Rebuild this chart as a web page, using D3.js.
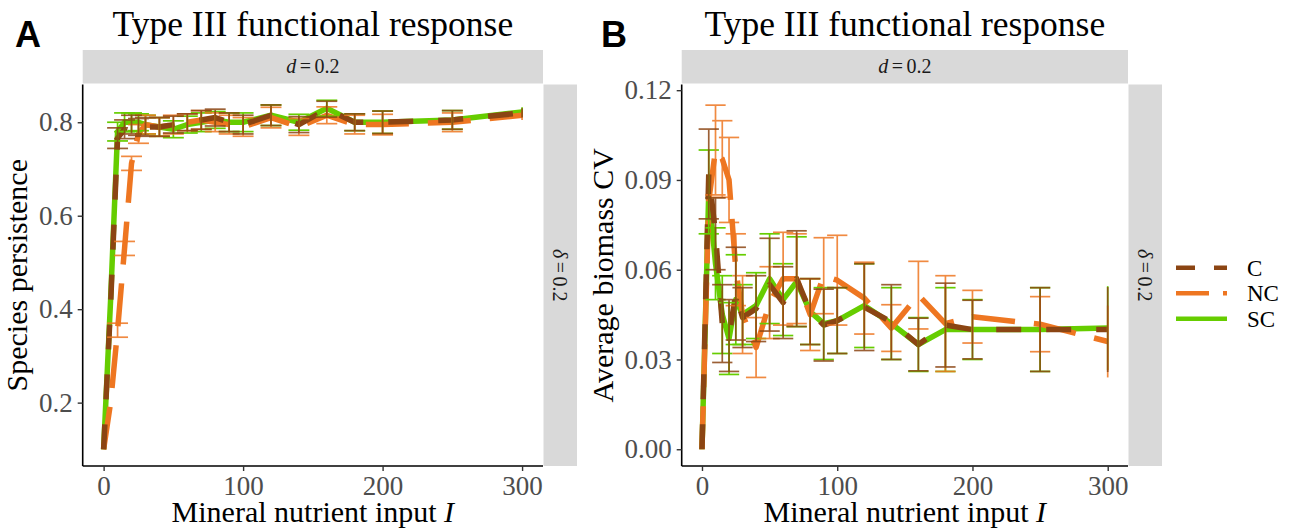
<!DOCTYPE html>
<html>
<head>
<meta charset="utf-8">
<script src="https://cdn.jsdelivr.net/npm/d3@7"></script>
<style>
  body { margin: 0; background: #fff; }
  svg { display: block; }
  text { font-family: "Liberation Serif", "Times New Roman", serif; }
</style>
</head>
<body>
<svg id="chart" width="1290" height="530"></svg>
<script>
// mineral nutrient input levels (x)
var inputs = [0, 5, 10, 15, 20, 25, 30, 40, 50, 60, 70, 80, 90, 100, 120, 140, 160, 180, 200, 250, 300];
var groups = ["C", "NC", "SC"];

// panel A : species persistence (mean, half error bar)
var persistC   = [0.10, 0.41, 0.766, 0.785, 0.795, 0.79, 0.79, 0.79, 0.795, 0.80, 0.805, 0.81, 0.80, 0.795, 0.815, 0.795, 0.828, 0.80, 0.80, 0.805, 0.82];
var persistCe  = [0, 0, 0.022, 0.02, 0.02, 0.018, 0.02, 0.02, 0.018, 0.018, 0.02, 0.018, 0.02, 0.02, 0.022, 0.017, 0.017, 0.018, 0.024, 0.02, 0.01];
var persistNC  = [0.10, 0.20, 0.355, 0.53, 0.712, 0.775, 0.795, 0.79, 0.795, 0.80, 0.805, 0.80, 0.795, 0.79, 0.81, 0.79, 0.815, 0.795, 0.795, 0.80, 0.815];
var persistNCe = [0, 0, 0.015, 0.015, 0.015, 0.02, 0.02, 0.02, 0.02, 0.018, 0.02, 0.02, 0.02, 0.02, 0.022, 0.018, 0.018, 0.02, 0.022, 0.02, 0.01];
var persistSC  = [0.10, 0.42, 0.78, 0.80, 0.80, 0.80, 0.795, 0.79, 0.785, 0.795, 0.80, 0.805, 0.80, 0.80, 0.815, 0.80, 0.83, 0.80, 0.80, 0.805, 0.822];
var persistSCe = [0, 0, 0.02, 0.02, 0.02, 0.018, 0.02, 0.02, 0.018, 0.018, 0.02, 0.018, 0.02, 0.02, 0.022, 0.017, 0.017, 0.018, 0.024, 0.02, 0.01];

// panel B : average biomass CV (mean, half error bar)
var cvC   = [0, 0.092, 0.072, 0.042, 0.038, 0.052, 0.044, 0.047, 0.055, 0.049, 0.057, 0.046, 0.0415, 0.043, 0.0475, 0.0425, 0.035, 0.0415, 0.040, 0.040, 0.040];
var cvCe  = [0, 0.015, 0.012, 0.013, 0.012, 0.0155, 0.010, 0.011, 0.0155, 0.012, 0.016, 0.011, 0.012, 0.011, 0.0145, 0.0125, 0.0088, 0.014, 0.0098, 0.014, 0.0142];
var cvNC  = [0, 0.083, 0.100, 0.097, 0.090, 0.060, 0.045, 0.034, 0.049, 0.057, 0.057, 0.045, 0.058, 0.0565, 0.0505, 0.0405, 0.0515, 0.042, 0.0443, 0.0418, 0.036];
var cvNCe = [0, 0, 0.015, 0.0128, 0.0142, 0.012, 0.013, 0.010, 0.012, 0.0155, 0.015, 0.012, 0.0127, 0.015, 0.012, 0.0078, 0.0113, 0.016, 0.0088, 0.0092, 0.012];
var cvSC  = [0, 0.086, 0.062, 0.045, 0.037, 0.050, 0.045, 0.048, 0.057, 0.050, 0.056, 0.046, 0.042, 0.043, 0.048, 0.042, 0.035, 0.040, 0.040, 0.040, 0.0405];
var cvSCe = [0, 0.014, 0.012, 0.013, 0.012, 0.015, 0.010, 0.011, 0.015, 0.012, 0.015, 0.011, 0.012, 0.011, 0.014, 0.012, 0.009, 0.014, 0.010, 0.014, 0.014];

var persistTicks = [0.2, 0.4, 0.6, 0.8];
var cvTicks = [0, 0.03, 0.06, 0.09, 0.12];
var inputTicks = [0, 100, 200, 300];

var colors = { C: "#8B4513", NC: "#EE7621", SC: "#66CD00" };
var dashes = { C: "25,25", NC: "43,19", SC: null };
var keyDashes = { C: "19,19", NC: "33,14", SC: null };

var svg = d3.select("#chart");
var plotTop = 84.5, plotBottom = 466;

function drawPanel(p) {
  var g = svg.append("g");
  var x = d3.scaleLinear().domain([-15, 315]).range([p.left, p.right]);
  var y = d3.scaleLinear().domain(p.yDomain).range([plotBottom, plotTop]);

  // panel letter + title
  g.append("text").attr("x", p.letterX).attr("y", 47)
    .style("font-family", "'Liberation Sans', Arial, sans-serif")
    .attr("font-weight", "bold").attr("font-size", 36).text(p.letter);
  g.append("text").attr("x", (p.left + p.right) / 2).attr("y", 35.5)
    .attr("text-anchor", "middle").attr("font-size", 35.5).text("Type III functional response");

  // facet strips
  g.append("rect").attr("x", p.left).attr("y", 50).attr("width", p.right - p.left).attr("height", 33.5)
    .attr("fill", "#D9D9D9");
  var st = g.append("text").attr("x", (p.left + p.right) / 2).attr("y", 73)
    .attr("text-anchor", "middle").attr("font-size", 20).attr("fill", "#1A1A1A");
  st.append("tspan").attr("font-style", "italic").text("d");
  st.append("tspan").attr("dx", 3.5).text("=");
  st.append("tspan").attr("dx", 3.5).text("0.2");

  g.append("rect").attr("x", p.right + 0.5).attr("y", plotTop).attr("width", 33.5).attr("height", plotBottom - plotTop)
    .attr("fill", "#D9D9D9");
  var rt = g.append("text")
    .attr("transform", "translate(" + (p.right + 17.2) + "," + ((plotTop + plotBottom) / 2) + ") rotate(90)")
    .attr("text-anchor", "middle").attr("dy", "0.35em").attr("font-size", 20).attr("fill", "#1A1A1A");
  rt.append("tspan").attr("font-style", "italic").text("δ");
  rt.append("tspan").attr("dx", 3.5).text("=");
  rt.append("tspan").attr("dx", 3.5).text("0.2");

  // lines
  var line = d3.line().x(function (d) { return x(d[0]); }).y(function (d) { return y(d[1]); });
  ["SC", "NC", "C"].forEach(function (k) {
    var pts = inputs.map(function (v, i) { return [v, p.mean[k][i]]; });
    g.append("path").datum(pts).attr("d", line)
      .attr("fill", "none").attr("stroke", colors[k]).attr("stroke-width", 5.5)
      .attr("stroke-linejoin", "round").attr("stroke-linecap", "butt")
      .attr("stroke-dasharray", dashes[k]);
  });

  // error bars
  ["SC", "NC", "C"].forEach(function (k) {
    var eg = g.append("g").attr("stroke", colors[k]).attr("stroke-width", 1.7)
      .attr("opacity", k === "SC" ? 1 : 0.85);
    inputs.forEach(function (v, i) {
      var m = p.mean[k][i], e = p.err[k][i];
      if (!e) return;
      var y0 = y(m - e), y1 = y(m + e), xc = x(v);
      eg.append("line").attr("x1", xc).attr("x2", xc).attr("y1", y0).attr("y2", y1);
      if (i < inputs.length - 1) {
        eg.append("line").attr("x1", x(v - 7.5)).attr("x2", x(v + 7.5)).attr("y1", y0).attr("y2", y0);
        eg.append("line").attr("x1", x(v - 7.5)).attr("x2", x(v + 7.5)).attr("y1", y1).attr("y2", y1);
      }
    });
  });

  // axes
  var ax = g.append("g").attr("transform", "translate(0," + plotBottom + ")")
    .call(d3.axisBottom(x).tickValues(inputTicks).tickSize(5).tickSizeOuter(0).tickPadding(5));
  var ay = g.append("g").attr("transform", "translate(" + p.left + ",0)")
    .call(d3.axisLeft(y).tickValues(p.ticks).tickFormat(d3.format(p.fmt)).tickSize(5).tickSizeOuter(0).tickPadding(5));
  [ax, ay].forEach(function (a) {
    a.select(".domain").attr("stroke", "#000").attr("stroke-width", 1.6);
    a.selectAll(".tick line").attr("stroke", "#333").attr("stroke-width", 1.4);
    a.selectAll(".tick text").attr("font-size", 27).attr("fill", "#4D4D4D")
      .style("font-family", "'Liberation Serif', 'Times New Roman', serif");
  });
  ax.select(".domain").attr("d", "M" + p.left + ",0H" + p.right);
  ay.select(".domain").attr("d", "M0," + plotTop + "V" + plotBottom);

  // axis titles
  var xt = g.append("text").attr("x", (p.left + p.right) / 2).attr("y", 522)
    .attr("text-anchor", "middle").attr("font-size", 30);
  xt.append("tspan").text("Mineral nutrient input ");
  xt.append("tspan").attr("font-style", "italic").text("I");
  g.append("text").attr("transform", "translate(" + p.yTitleX + "," + ((plotTop + plotBottom) / 2) + ") rotate(-90)")
    .attr("text-anchor", "middle").attr("font-size", 30).text(p.yTitle);
}

drawPanel({
  letter: "A", letterX: 15, left: 82.7, right: 543, yDomain: [0.0644, 0.8808],
  ticks: persistTicks, fmt: ".1f", yTitle: "Species persistence", yTitleX: 27,
  mean: { C: persistC, NC: persistNC, SC: persistSC },
  err: { C: persistCe, NC: persistNCe, SC: persistSCe }
});

drawPanel({
  letter: "B", letterX: 601, left: 681.7, right: 1128, yDomain: [-0.0056, 0.1219],
  ticks: cvTicks, fmt: ".2f", yTitle: "Average biomass CV", yTitleX: 613,
  mean: { C: cvC, NC: cvNC, SC: cvSC },
  err: { C: cvCe, NC: cvNCe, SC: cvSCe }
});

// legend
var lg = svg.append("g");
lg.append("rect").attr("x", 1162).attr("y", 208).attr("width", 128).attr("height", 212).attr("fill", "#fff");
groups.forEach(function (k, i) {
  var yy = 267.7 + i * 25.5;
  lg.append("line").attr("x1", 1176).attr("x2", 1227).attr("y1", yy).attr("y2", yy)
    .attr("stroke", colors[k]).attr("stroke-width", 4.6).attr("stroke-dasharray", keyDashes[k]);
  lg.append("text").attr("x", 1247).attr("y", yy).attr("dy", "0.35em").attr("font-size", 23).text(k);
});
</script>
</body>
</html>
